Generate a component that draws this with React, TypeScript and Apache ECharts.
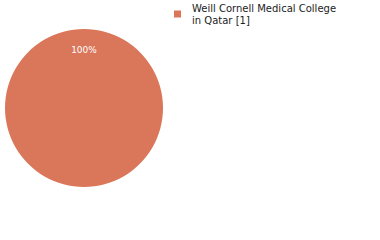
import React, { useEffect, useRef } from "react";
import * as echarts from "echarts";

const categories = ["Weill Cornell Medical College in Qatar [1]"];
const values = [1];
const colors = ["#DA765A"];

export default function App() {
  const ref = useRef<HTMLDivElement>(null);
  useEffect(() => {
    const chart = echarts.init(ref.current!, undefined, { renderer: "svg" });
    chart.setOption({
      animation: false,
      color: colors,
      legend: {
        orient: "vertical",
        left: 169,
        top: -3,
        icon: "rect",
        itemWidth: 7,
        itemHeight: 7,
        selectedMode: false,
        formatter: (n: string) => n.replace("College ", "College\n"),
        textStyle: {
          fontFamily: "DejaVu Sans",
          fontSize: 10,
          color: "#222",
          lineHeight: 12,
          padding: [0, 0, 0, 6],
        },
      },
      series: [
        {
          type: "pie",
          center: [84, 108],
          radius: 79,
          startAngle: 270,
          data: categories.map((c, i) => ({ name: c, value: values[i] })),
          label: {
            show: true,
            position: "inside",
            formatter: "{d}%",
            color: "#fff",
            fontFamily: "DejaVu Sans",
            fontSize: 9,
          },
          labelLayout: { dy: -16 },
          emphasis: { disabled: true },
        },
      ],
    });
    return () => chart.dispose();
  }, []);
  return <div ref={ref} style={{ width: 380, height: 240, position: "absolute", left: 0, top: 0 }} />;
}
